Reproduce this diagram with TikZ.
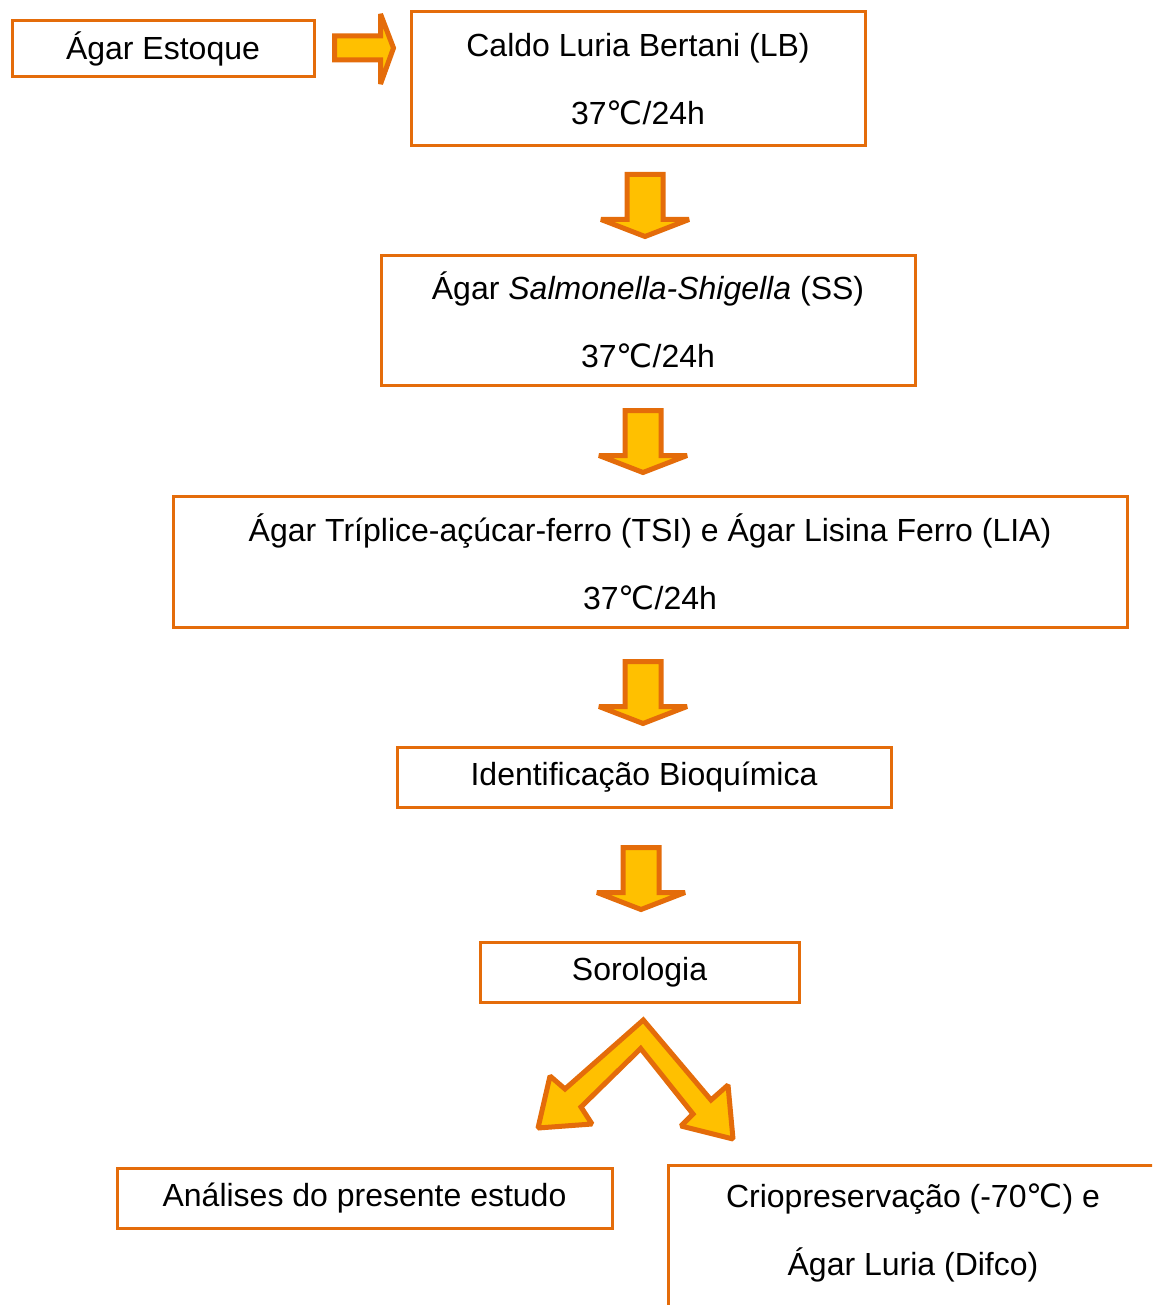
\documentclass[tikz,border=0pt]{standalone}
\usepackage{fontspec}
\usetikzlibrary{calc}
\setmainfont{Liberation Sans}
\newfontfamily\dejavu{DejaVu Sans}
\newcommand\dC{{\dejavu ℃}}
\definecolor{boxor}{HTML}{E46C0A}
\definecolor{gold}{HTML}{FFC000}
\begin{document}
\begin{tikzpicture}[x=0.5pt,y=-0.5pt,
  box/.style={draw=boxor, line width=1.5pt, inner sep=0pt, align=center,
    font=\fontsize{16}{34}\selectfont},
  arr/.style={draw=boxor, fill=gold, line width=2.5pt, line join=miter, miter limit=1.6}]
\useasboundingbox (0,0) rectangle (1152,1305);
\clip (0,0) rectangle (1152,1305);
\newcommand\downarr[1]{%
  \draw[arr] ($(#1)+(-18,0)$) -- ($(#1)+(18,0)$) -- ($(#1)+(18,45)$) -- ($(#1)+(44,45)$)
    -- ($(#1)+(0,62)$) -- ($(#1)+(-44,45)$) -- ($(#1)+(-18,45)$) -- cycle;}
% boxes
\node[box, minimum width=151pt, minimum height=28pt] (a) at (163,49) {Ágar Estoque};
\node[box, minimum width=227pt, minimum height=67pt] (b) at (638,79) {Caldo Luria Bertani (LB)\\37\dC/24h};
\node[box, minimum width=267pt, minimum height=65pt] (c) at (648,320) {Ágar \textit{Salmonella-Shigella} (SS)\\37\dC/24h};
\node[box, minimum width=477pt, minimum height=65.5pt] (d) at (650,561.5) {Ágar Tríplice-açúcar-ferro (TSI) e Ágar Lisina Ferro (LIA)\\37\dC/24h};
\node[box, minimum width=247pt, minimum height=30pt] (e) at (644,777) {Identificação Bioquímica};
\node[box, minimum width=159.5pt, minimum height=30pt] (f) at (639.5,972) {Sorologia};
\node[box, minimum width=247.5pt, minimum height=30pt] (g) at (364.5,1198) {Análises do presente estudo};
\node[box, minimum width=245pt, minimum height=99pt] (h) at (913,1264) {Criopreservação (-70\dC) e\\Ágar Luria (Difco)\\\mbox{}};
% right arrow a -> b
\draw[arr] ($(a.east)+(19,-13)$) -- ($(a.east)+(65,-13)$) -- ($(a.east)+(65,-35)$) -- ($(b.west)+(-16,-31)$)
  -- ($(a.east)+(65,35)$) -- ($(a.east)+(65,11)$) -- ($(a.east)+(19,11)$) -- cycle;
% down arrows
\coordinate (ab) at (645,174.5);
\coordinate (bc) at (643,410.5);
\coordinate (cd) at (643,661.5);
\coordinate (de) at (641,847.5);
\downarr{ab}
\downarr{bc}
\downarr{cd}
\downarr{de}
% split arrow
\draw[arr] (643.3,1020) -- (565,1089) -- (550,1076) -- (538,1128) -- (592,1124) -- (581,1107)
  -- (640.7,1048.5) -- (693,1114) -- (681,1126) -- (733,1139) -- (728,1085) -- (711,1100) -- cycle;
\end{tikzpicture}
\end{document}
